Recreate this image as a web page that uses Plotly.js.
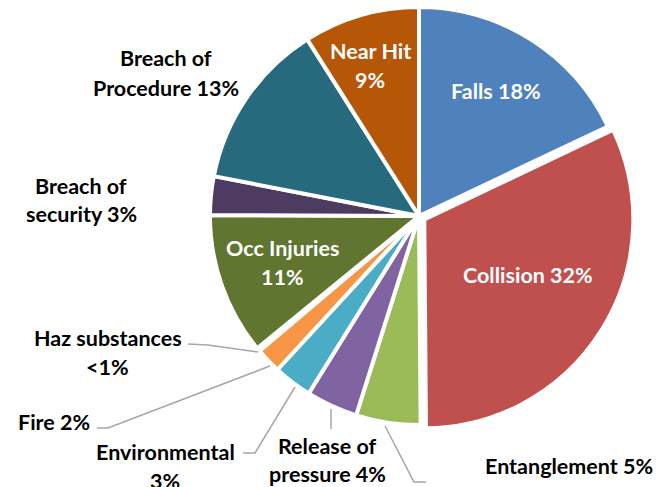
<!DOCTYPE html>
<html>
<head>
<meta charset="utf-8">
<script src="https://cdn.plot.ly/plotly-3.0.1.min.js"></script>
<style>html,body{margin:0;padding:0;background:#fff;}#chart{width:661px;height:487px;}</style>
</head>
<body>
<div id="chart"></div>
<script>
// Data (clockwise from 12 o'clock)
const categories = ["Falls", "Collision", "Entanglement", "Release of pressure", "Environmental", "Fire", "Haz substances", "Occ Injuries", "Breach of security", "Breach of Procedure", "Near Hit"];
const values = [18, 32, 5, 4, 3, 2, 0.25, 11, 3, 13, 9];
const percentLabels = ["18%", "32%", "5%", "4%", "3%", "2%", "<1%", "11%", "3%", "13%", "9%"];
const colors = ["#4F81BD", "#C0504D", "#9BBB59", "#8064A2", "#4BACC6", "#F79646", "#8EB4E3", "#5F7530", "#4D3B62", "#276A7D", "#B65708"];
const pulls = [0, 0.03, 0, 0, 0, 0, 0, 0, 0, 0, 0];

const W = 661, H = 487;
const px = x => x / W;
const py = y => 1 - y / H;

// label text lines and positions (pixel centres), inside labels white
const labelLines = [
  {i:0, lines:["Falls 18%"], x:496, y:[91], inside:true},
  {i:1, lines:["Collision 32%"], x:528, y:[275], inside:true},
  {i:2, lines:["Entanglement 5%"], x:569, y:[466], inside:false},
  {i:3, lines:["Release of", "pressure 4%"], x:327, y:[446, 474], inside:false},
  {i:4, lines:["Environmental", "3%"], x:165, y:[452, 481], inside:false},
  {i:5, lines:["Fire 2%"], x:54, y:[422], inside:false},
  {i:6, lines:["Haz substances", "<1%"], x:108, y:[338, 367], inside:false},
  {i:7, lines:["Occ Injuries", "11%"], x:282, y:[248, 277], inside:true},
  {i:8, lines:["Breach of", "security 3%"], x:81, y:[186, 214], inside:false},
  {i:9, lines:["Breach of", "Procedure 13%"], x:166, y:[58, 88], inside:false},
  {i:10, lines:["Near Hit", "9%"], x:370, y:[51, 80], inside:true}
];

// leader lines (pixel polylines)
const leaders = [
  [[188,344],[208,345],[258,352]],
  [[97,428],[108,428],[270,366]],
  [[243,453],[255,453],[295,387]],
  [[331,409],[331,429]],
  [[385,426],[414,482],[426,482]]
];

const annotations = [];
labelLines.forEach(l => {
  l.lines.forEach((t, k) => {
    annotations.push({
      xref:'paper', yref:'paper', x:px(l.x), y:py(l.y[k]),
      xanchor:'center', yanchor:'middle', showarrow:false,
      text:'<b>' + t.replace('<','&lt;') + '</b>',
      font:{family:'Lato, "Open Sans", sans-serif', size:21.5, color: l.inside ? '#FFFFFF' : '#000000'}
    });
  });
});

const shapes = leaders.map(pts => ({
  type:'path', xref:'paper', yref:'paper',
  path: pts.map((p, k) => (k ? 'L' : 'M') + px(p[0]) + ',' + py(p[1])).join(' '),
  line:{color:'#A6A6A6', width:1.5}
}));

const cx = 419, cy = 216, half = 215.3;
const trace = {
  type:'pie',
  labels:categories,
  values:values,
  sort:false,
  direction:'clockwise',
  rotation:0,
  pull:pulls,
  textinfo:'none',
  hoverinfo:'label+percent',
  marker:{colors:colors, line:{color:'#FFFFFF', width:4}},
  domain:{x:[px(cx-half), px(cx+half)], y:[py(cy+half), py(cy-half)]}
};

Plotly.newPlot('chart', [trace], {
  width:W, height:H,
  margin:{l:0, r:0, t:0, b:0},
  showlegend:false,
  paper_bgcolor:'#FFFFFF',
  annotations:annotations,
  shapes:shapes
}, {staticPlot:true});
</script>
</body>
</html>
